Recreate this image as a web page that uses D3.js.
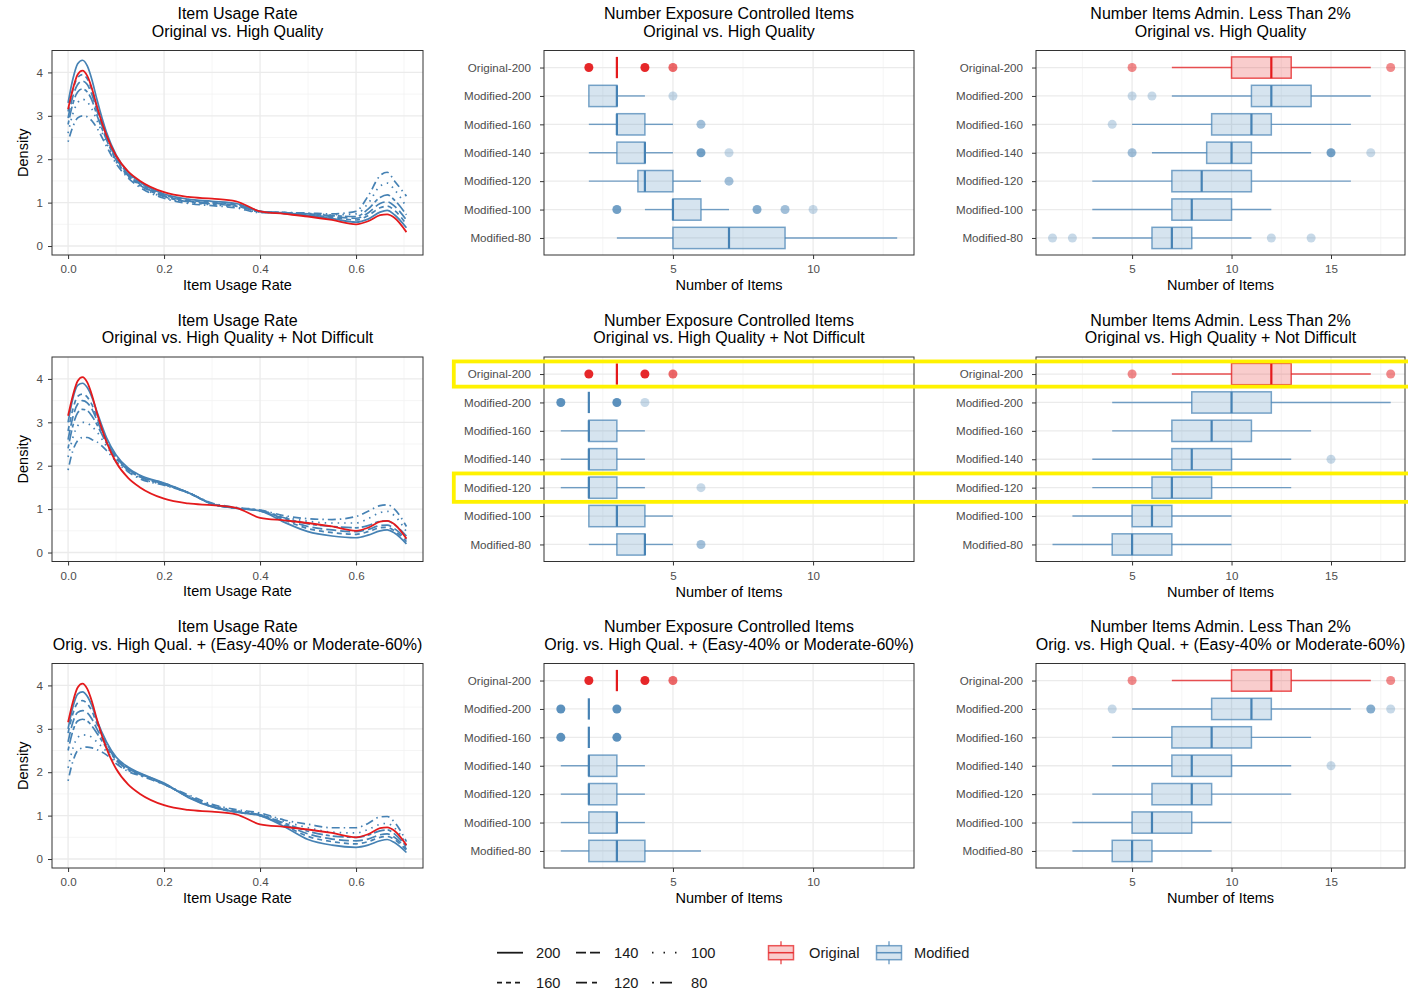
<!DOCTYPE html>
<html><head><meta charset="utf-8">
<script src="https://cdn.jsdelivr.net/npm/d3@7"></script>
<style>
body{margin:0;background:#fff}
svg{display:block}
text{font-family:"Liberation Sans",Arial,sans-serif}
</style>
</head><body>
<svg id="chart" width="1408" height="995"></svg>
<script>
// ---------------- DATA ----------------
const categories = ["Original-200","Modified-200","Modified-160","Modified-140","Modified-120","Modified-100","Modified-80"];
const modifiedSizes = ["200","160","140","120","100","80"];

const rowTitles = ["Original vs. High Quality","Original vs. High Quality + Not Difficult","Orig. vs. High Qual. + (Easy-40% or Moderate-60%)"];
const columnTitles = ["Item Usage Rate","Number Exposure Controlled Items","Number Items Admin. Less Than 2%"];

const densityTicksX = [0, 0.2, 0.4, 0.6];
const densityTicksY = [0, 1, 2, 3, 4];
const exposureTicks = [5, 10];
const adminTicks = [5, 10, 15];

// density sample locations (item usage rate)
const densityX = [0, 0.01, 0.02, 0.03, 0.04, 0.05, 0.06, 0.08, 0.1, 0.125, 0.15, 0.2, 0.25, 0.3, 0.35, 0.4, 0.45, 0.5, 0.55, 0.6, 0.625, 0.65, 0.665, 0.68, 0.705];
const densityOriginal = [3.15, 3.62, 3.95, 4.04, 3.92, 3.62, 3.22, 2.55, 2.08, 1.72, 1.5, 1.24, 1.13, 1.09, 1.03, 0.8, 0.74, 0.68, 0.6, 0.5, 0.57, 0.71, 0.73, 0.65, 0.32];
// Modified 200,160,140,120,100,80
const densityHQ = [
  [3.3, 3.85, 4.2, 4.28, 4.15, 3.82, 3.38, 2.62, 2.1, 1.7, 1.47, 1.2, 1.08, 1.03, 0.98, 0.8, 0.75, 0.7, 0.63, 0.55, 0.62, 0.78, 0.82, 0.72, 0.42],
  [3.1, 3.6, 3.88, 3.95, 3.85, 3.58, 3.2, 2.55, 2.05, 1.67, 1.45, 1.18, 1.06, 1.01, 0.96, 0.8, 0.76, 0.72, 0.66, 0.6, 0.7, 0.88, 0.92, 0.82, 0.5],
  [2.95, 3.45, 3.72, 3.8, 3.72, 3.48, 3.12, 2.5, 2.02, 1.65, 1.42, 1.16, 1.04, 0.99, 0.94, 0.8, 0.77, 0.73, 0.68, 0.64, 0.76, 0.98, 1.02, 0.92, 0.6],
  [2.8, 3.28, 3.55, 3.62, 3.55, 3.35, 3.02, 2.45, 1.98, 1.62, 1.4, 1.14, 1.02, 0.97, 0.92, 0.79, 0.77, 0.74, 0.7, 0.68, 0.85, 1.12, 1.18, 1.06, 0.72],
  [2.6, 3.05, 3.3, 3.38, 3.32, 3.15, 2.9, 2.38, 1.94, 1.6, 1.38, 1.12, 1.0, 0.95, 0.9, 0.78, 0.77, 0.75, 0.72, 0.74, 0.98, 1.38, 1.45, 1.3, 0.9],
  [2.4, 2.75, 2.95, 3.0, 2.98, 2.88, 2.72, 2.3, 1.9, 1.57, 1.35, 1.1, 0.98, 0.93, 0.88, 0.77, 0.77, 0.76, 0.74, 0.8, 1.15, 1.62, 1.7, 1.5, 1.15]
];
const densityND = [
  [3.0, 3.55, 3.85, 3.9, 3.8, 3.57, 3.25, 2.65, 2.25, 1.95, 1.78, 1.6, 1.38, 1.12, 1.02, 0.96, 0.7, 0.48, 0.38, 0.34, 0.4, 0.5, 0.52, 0.45, 0.2],
  [2.8, 3.3, 3.6, 3.65, 3.58, 3.4, 3.12, 2.6, 2.22, 1.93, 1.76, 1.6, 1.38, 1.12, 1.02, 0.96, 0.75, 0.55, 0.46, 0.42, 0.48, 0.57, 0.58, 0.5, 0.25],
  [2.6, 3.12, 3.42, 3.5, 3.45, 3.3, 3.05, 2.57, 2.2, 1.92, 1.75, 1.58, 1.38, 1.12, 1.02, 0.96, 0.78, 0.6, 0.52, 0.48, 0.53, 0.62, 0.63, 0.55, 0.3],
  [2.4, 2.92, 3.22, 3.3, 3.27, 3.14, 2.95, 2.52, 2.18, 1.9, 1.74, 1.57, 1.38, 1.12, 1.02, 0.97, 0.8, 0.66, 0.6, 0.57, 0.62, 0.72, 0.73, 0.64, 0.38],
  [2.2, 2.65, 2.92, 3.0, 2.98, 2.9, 2.78, 2.45, 2.15, 1.88, 1.72, 1.56, 1.38, 1.13, 1.03, 0.97, 0.82, 0.72, 0.68, 0.68, 0.78, 0.92, 0.95, 0.85, 0.48],
  [1.9, 2.35, 2.58, 2.65, 2.65, 2.6, 2.55, 2.35, 2.1, 1.86, 1.7, 1.55, 1.38, 1.14, 1.04, 0.98, 0.85, 0.78, 0.76, 0.83, 0.95, 1.08, 1.1, 1.0, 0.6]
];
const densityEM = [
  [3.0, 3.5, 3.8, 3.85, 3.75, 3.52, 3.2, 2.7, 2.35, 2.12, 1.98, 1.75, 1.42, 1.2, 1.08, 1.0, 0.75, 0.45, 0.32, 0.27, 0.32, 0.42, 0.45, 0.38, 0.15],
  [2.9, 3.35, 3.6, 3.65, 3.58, 3.4, 3.12, 2.67, 2.33, 2.1, 1.97, 1.74, 1.43, 1.2, 1.08, 1.0, 0.78, 0.52, 0.4, 0.35, 0.4, 0.5, 0.52, 0.45, 0.2],
  [2.7, 3.15, 3.38, 3.42, 3.37, 3.22, 3.0, 2.62, 2.3, 2.08, 1.96, 1.73, 1.44, 1.21, 1.09, 1.01, 0.8, 0.58, 0.46, 0.42, 0.46, 0.56, 0.58, 0.5, 0.23],
  [2.5, 2.95, 3.18, 3.22, 3.18, 3.06, 2.9, 2.57, 2.28, 2.06, 1.95, 1.72, 1.45, 1.22, 1.1, 1.02, 0.83, 0.64, 0.53, 0.5, 0.55, 0.65, 0.67, 0.58, 0.28],
  [2.1, 2.55, 2.8, 2.86, 2.85, 2.8, 2.7, 2.48, 2.24, 2.04, 1.93, 1.72, 1.46, 1.24, 1.12, 1.04, 0.87, 0.72, 0.62, 0.6, 0.68, 0.8, 0.82, 0.72, 0.33],
  [1.8, 2.25, 2.5, 2.56, 2.58, 2.56, 2.52, 2.4, 2.2, 2.02, 1.92, 1.72, 1.48, 1.26, 1.14, 1.06, 0.9, 0.8, 0.72, 0.72, 0.82, 0.97, 0.98, 0.85, 0.4]
];

// box stats per category: [lower whisker, Q1, median, Q3, upper whisker]
const exposureHQ = [[3,3,3,3,3],[2,2,3,3,4],[2,3,3,4,5],[2,3,4,4,5],[2,3.75,4,5,6],[4,5,5,6,7],[3,5,7,9,13]];
const exposureND = [[3,3,3,3,3],[2,2,2,2,2],[1,2,2,3,4],[1,2,2,3,4],[1,2,2,3,4],[2,2,3,4,5],[2,3,4,4,5]];
const exposureEM = [[3,3,3,3,3],[2,2,2,2,2],[2,2,2,2,2],[1,2,2,3,4],[1,2,2,3,4],[1,2,3,3,4],[1,2,3,4,6]];
const adminHQ = [[7,10,12,13,17],[7,11,12,14,17],[5,9,11,12,16],[6,8.75,10,11,14],[3,7,8.5,11,16],[3,7,8,10,12],[3,6,7,8,11]];
const adminND = [[7,10,12,13,17],[4,8,10,12,18],[4,7,9,11,14],[3,7,8,10,13],[3,6,7,9,13],[2,5,6,7,10],[1,4,5,7,10]];
const adminEM = [[7,10,12,13,17],[5,9,11,12,16],[4,7,9,11,14],[4,7,8,10,13],[3,6,8,9,13],[2,5,6,8,10],[2,4,5,6,9]];

// outliers per category: [value, number of overlapping replications]
const exposureHQOut = [[[2,8],[4,8],[5,3]],[[5,1]],[[6,2]],[[6,4],[7,1]],[[7,2]],[[3,4],[8,3],[9,2],[10,1]],[]];
const exposureNDOut = [[[2,8],[4,8],[5,3]],[[1,6],[3,6],[4,1]],[],[],[[6,1]],[],[[6,2]]];
const exposureEMOut = [[[2,8],[4,8],[5,3]],[[1,6],[3,6]],[[1,6],[3,6]],[],[],[],[]];
const adminHQOut = [[[5,2],[18,2]],[[5,1],[6,1]],[[4,1]],[[5,2],[15,4],[17,1]],[],[],[[1,1],[2,1],[12,1],[14,1]]];
const adminNDOut = [[[5,2],[18,2]],[],[],[[15,1]],[],[],[]];
const adminEMOut = [[[5,2],[18,2]],[[4,1],[17,3],[18,1]],[],[[15,1]],[],[],[]];

// axis limits (ggplot-expanded)
const densityXLimits = [-0.0335, 0.7395];
const densityYLimits = [-0.207, 4.505];
const exposureLimits = [0.4, 13.6];
const adminLimits = [0.17, 18.72];

// ---------------- STYLE / LAYOUT ----------------
const RED = "#e41a1c", BLUE = "#4682b4";
const dashes = {"200": null, "160": "5,4", "140": "10,4", "120": "4,3,11,3", "100": "1.5,5", "80": "1.5,4,8,4"};
const legendDashes = {"200": null, "160": "5,4", "140": "10,4", "120": "11,5,5,6", "100": "1.5,10", "80": "2,6,12,6"};
const rowTop = [50.5, 357, 663.5], rowH = 204.5;
const colX = [[52, 423], [544, 914], [1036, 1405]];
const GRID = "#ebebeb", GRIDMINOR = "#f3f3f3", BORDER = "#333333", TICKTXT = "#4d4d4d";

const svg = d3.select("#chart");
svg.append("rect").attr("width", 1408).attr("height", 995).attr("fill", "#fff");

function title(cx, top, lines) {
  const t = svg.append("text").attr("text-anchor", "middle").attr("font-size", 16).attr("fill", "#000");
  t.append("tspan").attr("x", cx).attr("y", top - 31.2).text(lines[0]);
  t.append("tspan").attr("x", cx).attr("y", top - 13.8).text(lines[1]);
}

function styleAxis(g, fs) {
  g.select(".domain").remove();
  g.selectAll(".tick line").attr("stroke", BORDER).attr("stroke-width", 1);
  g.selectAll(".tick text").attr("fill", TICKTXT).attr("font-size", fs)
    .attr("font-family", '"Liberation Sans",Arial,sans-serif');
}

function densityPanel(r, curves) {
  const [x0, x1] = colX[0], top = rowTop[r], bot = top + rowH;
  const x = d3.scaleLinear().domain(densityXLimits).range([x0, x1]);
  const y = d3.scaleLinear().domain(densityYLimits).range([bot, top]);
  const g = svg.append("g");
  [0.1, 0.3, 0.5, 0.7].forEach(v => g.append("line").attr("x1", x(v)).attr("x2", x(v)).attr("y1", top).attr("y2", bot).attr("stroke", GRIDMINOR).attr("stroke-width", 0.8));
  [0.5, 1.5, 2.5, 3.5].forEach(v => g.append("line").attr("y1", y(v)).attr("y2", y(v)).attr("x1", x0).attr("x2", x1).attr("stroke", GRIDMINOR).attr("stroke-width", 0.8));
  densityTicksX.forEach(v => g.append("line").attr("x1", x(v)).attr("x2", x(v)).attr("y1", top).attr("y2", bot).attr("stroke", GRID).attr("stroke-width", 1.3));
  densityTicksY.forEach(v => g.append("line").attr("y1", y(v)).attr("y2", y(v)).attr("x1", x0).attr("x2", x1).attr("stroke", GRID).attr("stroke-width", 1.3));
  const line = d3.line().x((d, i) => x(densityX[i])).y(d => y(d)).curve(d3.curveMonotoneX);
  curves.forEach((c, k) => {
    g.append("path").attr("d", line(c)).attr("fill", "none").attr("stroke", BLUE)
      .attr("stroke-width", 1.7).attr("stroke-dasharray", dashes[modifiedSizes[k]]);
  });
  g.append("path").attr("d", line(densityOriginal)).attr("fill", "none").attr("stroke", RED).attr("stroke-width", 1.8);
  g.append("rect").attr("x", x0).attr("y", top).attr("width", x1 - x0).attr("height", rowH).attr("fill", "none").attr("stroke", BORDER).attr("stroke-width", 1);
  const ax = svg.append("g").attr("transform", `translate(0,${bot})`)
    .call(d3.axisBottom(x).tickValues(densityTicksX).tickFormat(d3.format(".1f")).tickSize(4).tickPadding(6));
  styleAxis(ax, 11.6);
  const ay = svg.append("g").attr("transform", `translate(${x0},0)`)
    .call(d3.axisLeft(y).tickValues(densityTicksY).tickFormat(d3.format("d")).tickSize(4).tickPadding(5));
  styleAxis(ay, 11.6);
  svg.append("text").attr("x", (x0 + x1) / 2).attr("y", bot + 34.5).attr("text-anchor", "middle").attr("font-size", 14.5).attr("fill", "#000").text("Item Usage Rate");
  svg.append("text").attr("transform", `translate(28,${(top + bot) / 2}) rotate(-90)`).attr("text-anchor", "middle").attr("font-size", 14.5).attr("fill", "#000").text("Density");
  title((x0 + x1) / 2, top, [columnTitles[0], rowTitles[r]]);
}

function boxPanel(r, c, stats, outs, limits, ticks, minors) {
  const [x0, x1] = colX[c], top = rowTop[r], bot = top + rowH;
  const x = d3.scaleLinear().domain(limits).range([x0, x1]);
  const y = d3.scalePoint().domain(categories).range([top, bot]).padding(0.6);
  const bh = y.step() * 0.75;
  const g = svg.append("g");
  minors.forEach(v => g.append("line").attr("x1", x(v)).attr("x2", x(v)).attr("y1", top).attr("y2", bot).attr("stroke", GRIDMINOR).attr("stroke-width", 0.8));
  ticks.forEach(v => g.append("line").attr("x1", x(v)).attr("x2", x(v)).attr("y1", top).attr("y2", bot).attr("stroke", GRID).attr("stroke-width", 1.3));
  categories.forEach(cat => g.append("line").attr("y1", y(cat)).attr("y2", y(cat)).attr("x1", x0).attr("x2", x1).attr("stroke", GRID).attr("stroke-width", 1.3));
  categories.forEach((cat, i) => {
    const col = i === 0 ? RED : BLUE;
    const [lo, q1, md, q3, hi] = stats[i];
    const cy = y(cat);
    const gg = g.append("g");
    if (lo < q1) gg.append("line").attr("x1", x(lo)).attr("x2", x(q1)).attr("y1", cy).attr("y2", cy).attr("stroke", col).attr("stroke-opacity", 0.75).attr("stroke-width", 1.4);
    if (hi > q3) gg.append("line").attr("x1", x(q3)).attr("x2", x(hi)).attr("y1", cy).attr("y2", cy).attr("stroke", col).attr("stroke-opacity", 0.75).attr("stroke-width", 1.4);
    if (q3 > q1) gg.append("rect").attr("x", x(q1)).attr("y", cy - bh / 2).attr("width", x(q3) - x(q1)).attr("height", bh)
      .attr("fill", col).attr("fill-opacity", 0.22).attr("stroke", col).attr("stroke-opacity", 0.72).attr("stroke-width", 1.5);
    gg.append("line").attr("x1", x(md)).attr("x2", x(md)).attr("y1", cy - bh / 2).attr("y2", cy + bh / 2).attr("stroke", col).attr("stroke-width", 2.2);
    outs[i].forEach(([v, n]) => {
      gg.append("circle").attr("cx", x(v)).attr("cy", cy).attr("r", 4.5).attr("fill", col).attr("fill-opacity", 1 - Math.pow(0.7, n));
    });
  });
  g.append("rect").attr("x", x0).attr("y", top).attr("width", x1 - x0).attr("height", rowH).attr("fill", "none").attr("stroke", BORDER).attr("stroke-width", 1);
  const ax = svg.append("g").attr("transform", `translate(0,${bot})`)
    .call(d3.axisBottom(x).tickValues(ticks).tickFormat(d3.format("d")).tickSize(4).tickPadding(6));
  styleAxis(ax, 11.6);
  const ay = svg.append("g").attr("transform", `translate(${x0},0)`)
    .call(d3.axisLeft(y).tickSize(4).tickPadding(9));
  styleAxis(ay, 11.6);
  svg.append("text").attr("x", (x0 + x1) / 2).attr("y", bot + 35).attr("text-anchor", "middle").attr("font-size", 14.5).attr("fill", "#000").text("Number of Items");
  title((x0 + x1) / 2, top, [columnTitles[c], rowTitles[r]]);
  return y;
}

densityPanel(0, densityHQ);
densityPanel(1, densityND);
densityPanel(2, densityEM);
boxPanel(0, 1, exposureHQ, exposureHQOut, exposureLimits, exposureTicks, [2.5, 7.5, 12.5]);
const yMid2 = boxPanel(1, 1, exposureND, exposureNDOut, exposureLimits, exposureTicks, [2.5, 7.5, 12.5]);
boxPanel(2, 1, exposureEM, exposureEMOut, exposureLimits, exposureTicks, [2.5, 7.5, 12.5]);
boxPanel(0, 2, adminHQ, adminHQOut, adminLimits, adminTicks, [2.5, 7.5, 12.5, 17.5]);
boxPanel(1, 2, adminND, adminNDOut, adminLimits, adminTicks, [2.5, 7.5, 12.5, 17.5]);
boxPanel(2, 2, adminEM, adminEMOut, adminLimits, adminTicks, [2.5, 7.5, 12.5, 17.5]);

// yellow highlight annotations (row 2)
[["Original-200", 12.6], ["Modified-120", 14.2]].forEach(([cat, h]) => {
  svg.append("rect").attr("x", 453.8).attr("y", yMid2(cat) - h).attr("width", 1000).attr("height", 2 * h)
    .attr("fill", "none").attr("stroke", "#fff200").attr("stroke-width", 3.8);
});

// ---------------- LEGEND ----------------
const legendLT = [["200", 0, 0], ["160", 0, 1], ["140", 1, 0], ["120", 1, 1], ["100", 2, 0], ["80", 2, 1]];
const ltKeyX = [497, 576, 652], ltLabX = [536, 614, 691], ltY = [952.7, 982.7];
legendLT.forEach(([lab, cx, ry]) => {
  svg.append("line").attr("x1", ltKeyX[cx]).attr("x2", ltKeyX[cx] + 26).attr("y1", ltY[ry]).attr("y2", ltY[ry])
    .attr("stroke", "#1a1a1a").attr("stroke-width", 1.8).attr("stroke-dasharray", legendDashes[lab]);
  svg.append("text").attr("x", ltLabX[cx]).attr("y", ltY[ry] + 5.3).attr("font-size", 14.67).attr("fill", "#1a1a1a").text(lab);
});
const fillLegend = [["Original", RED, 768, 809], ["Modified", BLUE, 876, 914]];
fillLegend.forEach(([lab, col, kx, lx]) => {
  const cx = kx + 13, cy = 952.7;
  svg.append("line").attr("x1", cx).attr("x2", cx).attr("y1", cy - 11.5).attr("y2", cy + 11.5).attr("stroke", col).attr("stroke-opacity", 0.75).attr("stroke-width", 1.4);
  svg.append("rect").attr("x", kx + 0.5).attr("y", cy - 7).attr("width", 25).attr("height", 14)
    .attr("fill", "#fff");
  svg.append("rect").attr("x", kx + 0.5).attr("y", cy - 7).attr("width", 25).attr("height", 14)
    .attr("fill", col).attr("fill-opacity", 0.22).attr("stroke", col).attr("stroke-opacity", 0.72).attr("stroke-width", 1.5);
  svg.append("line").attr("x1", kx + 0.5).attr("x2", kx + 25.5).attr("y1", cy).attr("y2", cy).attr("stroke", col).attr("stroke-opacity", 0.85).attr("stroke-width", 1.5);
  svg.append("text").attr("x", lx).attr("y", cy + 5.3).attr("font-size", 14.67).attr("fill", "#1a1a1a").text(lab);
});
</script>
</body></html>
